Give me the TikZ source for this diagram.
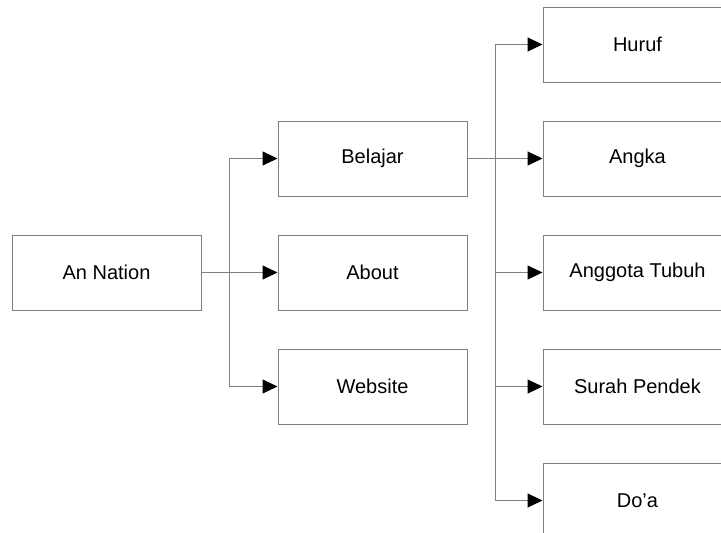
\documentclass[tikz,border=0pt]{standalone}
\usepackage{fontspec}
\setmainfont{Liberation Sans}
\usetikzlibrary{positioning, arrows.meta}

\definecolor{linegray}{RGB}{128,128,128}

\begin{document}
\begin{tikzpicture}[
	x=1pt, y=-1pt,
	menubox/.style={rectangle, draw=linegray, line width=1pt, inner sep=0pt, minimum width=189pt, minimum height=75pt, font=\fontsize{20}{24}\selectfont},
	link/.style={draw=linegray, line width=1pt, -{Triangle[length=15pt, width=14pt, color=black]}},
	node distance=38pt and 75pt
]
\useasboundingbox (0,0) rectangle (721,533);
\clip (0,0) rectangle (721,533);

\node[menubox] (nation) at (106.5,272.5) {An Nation};
\node[menubox, right=76pt of nation] (about) {About};
\node[menubox, above=38pt of about] (belajar) {Belajar};
\node[menubox, below=38pt of about] (website) {Website};

\node[menubox, right=75pt of belajar] (angka) {Angka};
\node[menubox, above=of angka] (huruf) {Huruf};
\node[menubox, below=of angka] (anggota) {Anggota Tubuh};
\node[menubox, below=of anggota] (surah) {Surah Pendek};
\node[menubox, below=of surah] (doa) {Do'a};

\draw[link] (nation.east) -- (about.west);
\draw[link] (nation.east) ++(28,0) |- (belajar.west);
\draw[link] (nation.east) ++(28,0) |- (website.west);

\draw[link] (belajar.east) -- (angka.west);
\draw[link] (belajar.east) ++(28,0) |- (huruf.west);
\draw[link] (belajar.east) ++(28,0) |- (anggota.west);
\draw[link] (belajar.east) ++(28,0) |- (surah.west);
\draw[link] (belajar.east) ++(28,0) |- (doa.west);
\end{tikzpicture}
\end{document}
